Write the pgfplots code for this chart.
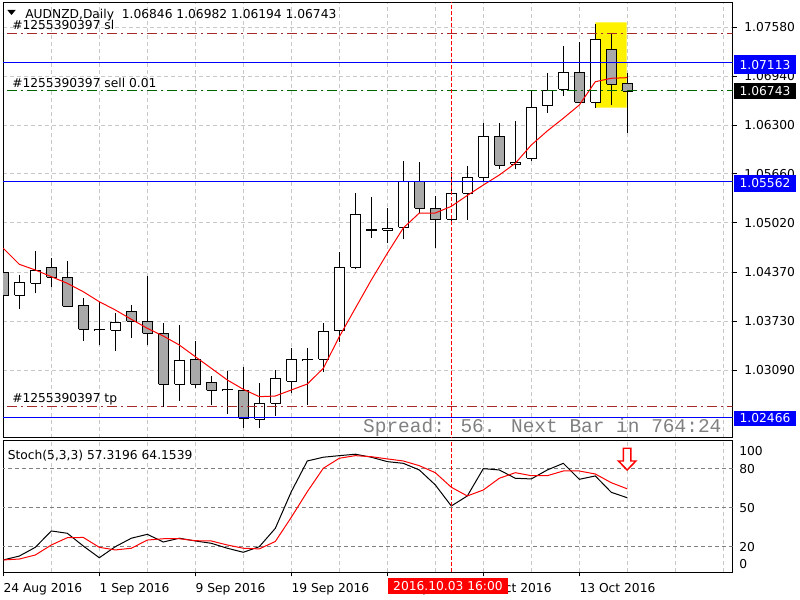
\documentclass[border=0pt]{standalone}
\usepackage{fontspec}
\setmainfont{DejaVu Sans}
\newfontfamily\monofont{Liberation Mono}
\usepackage{pgfplots}
\usepackage{pgfplotstable}
\pgfplotsset{compat=1.18}

\definecolor{gridgray}{RGB}{200,200,200}
\definecolor{candlegray}{RGB}{169,169,169}
\definecolor{slbrown}{RGB}{165,42,42}
\definecolor{sellgreen}{RGB}{0,100,0}
\definecolor{levelgray}{RGB}{128,128,128}
\definecolor{spreadgray}{RGB}{128,128,128}
\definecolor{mtblue}{RGB}{0,0,255}
\definecolor{mtred}{RGB}{255,0,0}

\newcommand{\lab}{\fontsize{9.2}{11}\selectfont}

\pgfplotstableread{
i O H L C
0 1.04371 1.04663 1.03995 1.04069
1 1.04069 1.04335 1.03896 1.04237
2 1.04226 1.04650 1.04095 1.04394
3 1.04436 1.04554 1.04174 1.04306
4 1.04305 1.04519 1.03922 1.03925
5 1.03942 1.04030 1.03474 1.03624
6 1.03621 1.03979 1.03418 1.03615
7 1.03611 1.03833 1.03343 1.03716
8 1.03854 1.03942 1.03514 1.03729
9 1.03729 1.04326 1.03418 1.03571
10 1.03571 1.03702 1.02606 1.02903
11 1.02903 1.03680 1.02688 1.03218
12 1.03231 1.03467 1.02859 1.02903
13 1.02930 1.03012 1.02632 1.02825
14 1.02835 1.03078 1.02514 1.02830
15 1.02825 1.03126 1.02335 1.02458
16 1.02445 1.02916 1.02335 1.02654
17 1.02654 1.03091 1.02492 1.02982
18 1.02943 1.03375 1.02785 1.03231
19 1.03224 1.03375 1.02632 1.03228
20 1.03231 1.03710 1.03068 1.03592
21 1.03602 1.04633 1.03461 1.04436
22 1.04436 1.05405 1.04410 1.05130
23 1.04923 1.05353 1.04824 1.04927
24 1.04921 1.05209 1.04750 1.04947
25 1.04960 1.05829 1.04803 1.05557
26 1.05560 1.05819 1.05143 1.05209
27 1.05209 1.05370 1.04693 1.05056
28 1.05065 1.05678 1.05016 1.05407
29 1.05407 1.05763 1.05056 1.05615
30 1.05615 1.06322 1.05570 1.06152
31 1.06152 1.06322 1.05728 1.05772
32 1.05789 1.06353 1.05720 1.05815
33 1.05864 1.06763 1.05832 1.06532
34 1.06549 1.06977 1.06461 1.06755
35 1.06768 1.07335 1.06684 1.06990
36 1.06990 1.07384 1.06590 1.06598
37 1.06598 1.07619 1.06527 1.07423
38 1.07292 1.07492 1.06562 1.06833
39 1.06846 1.06982 1.06194 1.06743
}\candles

\pgfplotstableread{
i ma
0 1.04685
1 1.04475
2 1.04401
3 1.04313
4 1.04226
5 1.04116
6 1.03985
7 1.03877
8 1.03755
9 1.03637
10 1.03536
11 1.03418
12 1.03265
13 1.03113
14 1.02960
15 1.02838
16 1.02741
17 1.02750
18 1.02829
19 1.02907
20 1.03113
21 1.03527
22 1.03899
23 1.04270
24 1.04619
25 1.04951
26 1.05147
27 1.05147
28 1.05235
29 1.05377
30 1.05514
31 1.05645
32 1.05798
33 1.06038
34 1.06222
35 1.06388
36 1.06562
37 1.06867
38 1.06912
39 1.06920
}\matable

\pgfplotstableread{
i K D
0 9.5 9.5
1 12.5 10.2
2 19.2 13.3
3 31.8 21.0
4 30.0 26.6
5 20.2 26.8
6 11.2 19.2
7 19.7 17.2
8 26.2 18.5
9 29.2 24.8
10 23.3 25.8
11 26.2 25.8
12 24.1 24.3
13 22.3 24.1
14 18.5 21.0
15 15.4 18.5
16 19.7 18.0
17 33.8 23.7
18 62.0 42.3
19 85.6 62.0
20 88.5 80.0
21 89.7 87.7
22 90.8 89.7
23 88.5 88.9
24 85.1 87.2
25 83.8 85.6
26 78.7 82.0
27 67.2 76.6
28 51.0 65.4
29 58.7 58.7
30 79.7 63.3
31 78.7 72.3
32 72.3 76.6
33 71.8 74.3
34 78.7 74.3
35 83.8 77.9
36 71.5 77.9
37 74.1 75.6
38 61.5 68.9
39 57.3196 64.1539
}\stoch

\begin{document}
\begin{tikzpicture}
\useasboundingbox (0,0) rectangle (600pt,450pt);

\begin{axis}[
  at={(2.25pt,121.725pt)}, anchor=south west,
  scale only axis, width=547.3pt, height=326.4pt,
  xmin=-0.02, xmax=45.59, ymin=1.022038, ymax=1.079049,
  clip mode=individual,
  axis line style={line width=0.75pt},
  xtick={0,3,...,45}, xticklabels={}, xtick style={draw=none},
  ytick={1.0309,1.0373,1.0437,1.0502,1.0566,1.063,1.0694,1.0758},
  yticklabels={1.03090,1.03730,1.04370,1.05020,1.05660,1.06300,1.06940,1.07580},
  ytick pos=right, yticklabel pos=right,
  tick align=outside, major tick length=3pt,
  ytick style={line width=0.75pt, black},
  scaled y ticks=false,
  grid=major,
  major grid style={draw=gridgray, dash pattern=on 3pt off 2.25pt, line width=0.75pt},
  yticklabel style={anchor=west, inner sep=0pt, xshift=5.5pt, font=\lab},
]
% highlight rectangle
\addplot[fill=yellow, draw=none] coordinates {(37,1.07646) (38.96,1.07646) (38.96,1.06527) (37,1.06527) (37,1.07646)};

% candles
\pgfplotsinvokeforeach{0,...,39}{
  \pgfplotstablegetelem{#1}{O}\of\candles \let\cO\pgfplotsretval
  \pgfplotstablegetelem{#1}{H}\of\candles \let\cH\pgfplotsretval
  \pgfplotstablegetelem{#1}{L}\of\candles \let\cL\pgfplotsretval
  \pgfplotstablegetelem{#1}{C}\of\candles \let\cC\pgfplotsretval
  \pgfmathsetmacro\xa{#1-0.3}\pgfmathsetmacro\xb{#1+0.3}
  \ifdim\cC pt>\cO pt
    \edef\cLo{\cO}\edef\cHi{\cC}\def\cFill{white}%
  \else
    \edef\cLo{\cC}\edef\cHi{\cO}\def\cFill{candlegray}%
  \fi
  \edef\doplot{\noexpand\addplot[black, line width=0.75pt] coordinates {(#1,\cL) (#1,\cH)};
    \noexpand\addplot[draw=black, fill=\cFill, line width=0.75pt] coordinates {(\xa,\cLo) (\xb,\cLo) (\xb,\cHi) (\xa,\cHi) (\xa,\cLo)};}%
  \doplot
}

% moving average
\addplot[mtred, line width=0.75pt] table[x=i, y=ma] {\matable};

% order lines
\addplot[slbrown, line width=0.75pt, dash pattern=on 7.5pt off 3pt on 1.5pt off 3pt] coordinates {(-1,1.07501) (46,1.07501)};
\addplot[mtblue, line width=0.75pt] coordinates {(-1,1.07113) (46,1.07113)};
\addplot[sellgreen, line width=0.75pt, dash pattern=on 7.5pt off 3pt on 1.5pt off 3pt] coordinates {(-1,1.06749) (46,1.06749)};
\addplot[mtblue, line width=0.75pt] coordinates {(-1,1.05562) (46,1.05562)};
\addplot[slbrown, line width=0.75pt, dash pattern=on 7.5pt off 3pt on 1.5pt off 3pt] coordinates {(-1,1.02606) (46,1.02606)};
\addplot[mtblue, line width=0.75pt] coordinates {(-1,1.02466) (46,1.02466)};

% crosshair
\addplot[mtred, line width=0.75pt, dash pattern=on 3pt off 1.5pt] coordinates {(28,1.02) (28,1.08)};

% texts
\fill (axis cs:0.25,1.07807) -- (axis cs:0.775,1.07807) -- (axis cs:0.5125,1.07741) -- cycle;
\node[anchor=base west, font=\lab, inner sep=0pt] at (axis cs:1.356,1.07689) {AUDNZD,Daily\ \ 1.06846 1.06982 1.06194 1.06743};
\node[anchor=base west, font=\lab, inner sep=0pt] at (axis cs:0.544,1.07546) {\#1255390397 sl};
\node[anchor=base west, font=\lab, inner sep=0pt] at (axis cs:0.544,1.06794) {\#1255390397 sell 0.01};
\node[anchor=base west, font=\lab, inner sep=0pt] at (axis cs:0.544,1.02662) {\#1255390397 tp};
\node[anchor=base east, font=\monofont\fontsize{14.6}{17}\selectfont, text=spreadgray, inner sep=0pt] at (axis cs:44.9,1.02269) {Spread: 56. Next Bar in 764:24};

\coordinate (b1) at (axis cs:45.59,1.07113);
\coordinate (b2) at (axis cs:45.59,1.06743);
\coordinate (b3) at (axis cs:45.59,1.05562);
\coordinate (b4) at (axis cs:45.59,1.02466);
\end{axis}

\begin{axis}[
  at={(2.25pt,20.775pt)}, anchor=south west,
  scale only axis, width=547.3pt, height=98.7pt,
  xmin=-0.02, xmax=45.59, ymin=0, ymax=101.2,
  clip mode=individual,
  axis line style={line width=0.75pt},
  xtick={0,6,...,36},
  xticklabels={24 Aug 2016,1 Sep 2016,9 Sep 2016,19 Sep 2016,27 Sep 2016,5 Oct 2016,13 Oct 2016},
  minor xtick={3,9,15,21,27,33,39,42,45},
  xtick pos=bottom, tick align=outside, major tick length=3pt, minor tick length=0pt,
  xtick style={line width=0.75pt, black},
  xmajorgrids, xminorgrids,
  major grid style={draw=gridgray, dash pattern=on 3pt off 2.25pt, line width=0.75pt},
  minor grid style={draw=gridgray, dash pattern=on 3pt off 2.25pt, line width=0.75pt},
  ytick={6.4,19.5,49.5,79.5,93.5}, yticklabels={0,20,50,80,100},
  ytick pos=right, yticklabel pos=right, ytick style={draw=none},
  xticklabel style={anchor=north west, inner sep=0pt, yshift=-5pt, font=\lab},
  yticklabel style={anchor=west, inner sep=0pt, xshift=1.7pt, font=\lab},
]
\addplot[levelgray, line width=0.75pt, dash pattern=on 3pt off 2.25pt] coordinates {(-1,20) (46,20)};
\addplot[levelgray, line width=0.75pt, dash pattern=on 3pt off 2.25pt] coordinates {(-1,50) (46,50)};
\addplot[levelgray, line width=0.75pt, dash pattern=on 3pt off 2.25pt] coordinates {(-1,80) (46,80)};

\addplot[black, line width=0.75pt] table[x=i, y=K] {\stoch};
\addplot[mtred, line width=0.75pt] table[x=i, y=D] {\stoch};

\addplot[mtred, line width=0.75pt, dash pattern=on 3pt off 1.5pt] coordinates {(28,0) (28,101.2)};

\draw[mtred, line width=1.1pt, fill=white] (axis cs:38.76,95.4) -- (axis cs:39.22,95.4) -- (axis cs:39.22,85.6) -- (axis cs:39.54,85.6) -- (axis cs:38.99,78.7) -- (axis cs:38.44,85.6) -- (axis cs:38.76,85.6) -- cycle;

\node[anchor=base west, font=\lab, inner sep=0pt] at (axis cs:0.2625,87) {Stoch(5,3,3) 57.3196 64.1539};

\coordinate (chbox) at (axis cs:28,0);
\end{axis}

% labels on top of the axes' tick labels
\node[anchor=west, fill=mtblue, text=white, font=\lab, inner xsep=4.5pt, inner ysep=0pt, minimum height=14.25pt, xshift=0.5pt, yshift=-1.2pt] at (b1) {1.07113};
\node[anchor=west, fill=black, text=white, font=\lab, inner xsep=4.5pt, inner ysep=0pt, minimum height=12pt, xshift=0.5pt] at (b2) {1.06743};
\node[anchor=west, fill=mtblue, text=white, font=\lab, inner xsep=4.5pt, inner ysep=0pt, minimum height=12.5pt, xshift=0.5pt, yshift=-1.4pt] at (b3) {1.05562};
\node[anchor=west, fill=mtblue, text=white, font=\lab, inner xsep=4.5pt, inner ysep=0pt, minimum height=11.5pt, xshift=0.5pt, yshift=-0.5pt] at (b4) {1.02466};
\node[fill=mtred, text=white, font=\lab, anchor=north, inner xsep=0pt, inner ysep=0pt, minimum width=89.5pt, minimum height=11.8pt, xshift=-2.5pt, yshift=-4.3pt] at (chbox) {2016.10.03 16:00};
\end{tikzpicture}
\end{document}
